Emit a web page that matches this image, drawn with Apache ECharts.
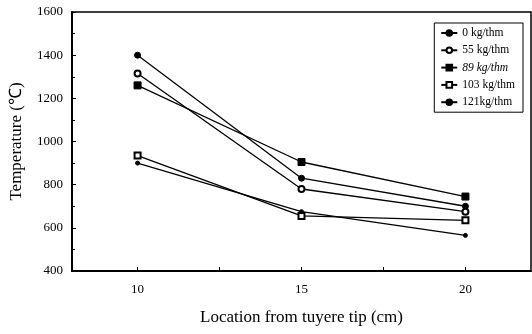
<!DOCTYPE html>
<html><head><meta charset="utf-8">
<script src="https://cdn.jsdelivr.net/npm/echarts@6/dist/echarts.min.js"></script>
<style>html,body{margin:0;padding:0;background:#fff}#c{width:532px;height:334px}</style>
</head><body><div id="c"></div>
<script>
const locations = [10, 15, 20];
const seriesNames = ['0 kg/thm', '55 kg/thm', '89 kg/thm', '103 kg/thm', '121kg/thm'];
const s0 = [1400, 830, 700];
const s55 = [1315, 780, 675];
const s89 = [1260, 905, 745];
const s103 = [935, 655, 635];
const s121 = [900, 675, 565];
const yTicks = [400, 600, 800, 1000, 1200, 1400, 1600];
const xTickLabels = [10, 15, 20];
const xTickMarks = [10, 12.5, 15, 17.5, 20];
const xMin = 8, xMax = 22;

const values = [s0, s55, s89, s103, s121];
const symbols = ['circle', 'emptyCircle', 'rect', 'emptyRect', 'circle'];
const sizes = [6, 6, 7, 6, 4];
const font = 'Liberation Serif';

// half-unit scaffolding for the labelled tick axis
const xSlots = [];
for (let v = xMin; v <= xMax + 1e-9; v += 0.5) xSlots.push(String(v));

const chart = echarts.init(document.getElementById('c'), null, {renderer: 'canvas'});
chart.setOption({
  animation: false,
  backgroundColor: '#fff',
  grid: {left: 71, top: 12, right: 1, bottom: 63, show: true, borderColor: '#000', borderWidth: 1.5},
  legend: {
    orient: 'vertical', right: 9, top: 23,
    itemWidth: 16, itemHeight: 7, itemGap: 5.3,
    backgroundColor: '#fff', borderColor: '#000', borderWidth: 1,
    padding: [4, 8, 4, 6],
    textStyle: {fontFamily: font, fontSize: 11.5, color: '#000'},
    data: seriesNames.map((n, i) => ({name: n, textStyle: i === 2 ? {fontStyle: 'italic'} : {}}))
  },
  xAxis: [{
    type: 'value', min: xMin, max: xMax, interval: 1,
    name: 'Location from tuyere tip (cm)', nameLocation: 'middle', nameGap: 38,
    nameTextStyle: {fontFamily: font, fontSize: 17, color: '#000'},
    axisLine: {lineStyle: {color: '#000', width: 2}},
    axisTick: {show: false},
    splitLine: {show: false},
    axisLabel: {show: false}
  }, {
    type: 'category', position: 'bottom', boundaryGap: false, data: xSlots,
    axisLine: {show: false},
    axisTick: {show: true, inside: true, length: 4, lineStyle: {color: '#000'},
      interval: (i, v) => xTickMarks.includes(Number(v))},
    splitLine: {show: false},
    axisLabel: {fontFamily: font, fontSize: 13, color: '#000', margin: 12,
      interval: (i, v) => xTickLabels.includes(Number(v)),
      formatter: v => String(v)}
  }],
  yAxis: {
    type: 'value', min: yTicks[0], max: yTicks[yTicks.length - 1], interval: 200,
    name: 'Temperature (℃)', nameLocation: 'middle', nameGap: 47,
    nameTextStyle: {fontFamily: font, fontSize: 17, color: '#000'},
    axisLine: {show: true, lineStyle: {color: '#000', width: 2}},
    axisTick: {show: true, inside: true, length: 4, lineStyle: {color: '#000'}},
    minorTick: {show: true, splitNumber: 2, length: 3, lineStyle: {color: '#000'}},
    splitLine: {show: false},
    axisLabel: {fontFamily: font, fontSize: 13, color: '#000', margin: 9, formatter: v => String(v)}
  },
  series: values.map((vals, i) => ({
    name: seriesNames[i], type: 'line', xAxisIndex: 0,
    data: locations.map((x, j) => [x, vals[j]]),
    symbol: symbols[i], symbolSize: sizes[i], showSymbol: true,
    lineStyle: {color: '#000', width: 1.3},
    itemStyle: {color: '#000', borderColor: '#000', borderWidth: 1}
  }))
});
</script></body></html>
